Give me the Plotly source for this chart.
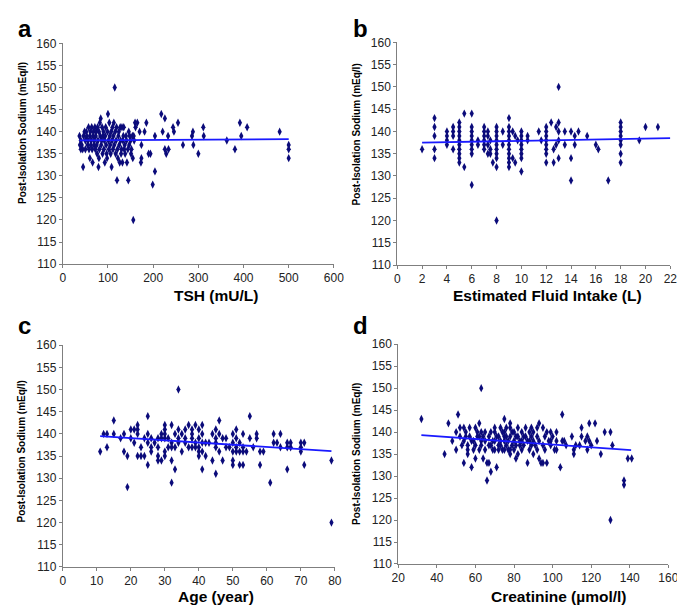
import plotly.graph_objects as go

# ---------------- data ----------------
y_ticks = [110, 115, 120, 125, 130, 135, 140, 145, 150, 155, 160]

panel_a_points = [
    (37,139),(38,137),(40,136),(40,138),(42,137),(44,136),(45,132),(46,139),(48,140),(50,138),(50,136),
    (52,140),(53,139),(55,137),(56,138),(57,141),(58,136),(60,134),(60,139),(61,140),(62,137),(63,138),
    (64,141),(65,136),(66,133),(67,139),(68,140),(69,137),(70,138),
    (71,141),(72,136),(73,139),(74,140),(75,137),(76,135),(77,141),(78,138),(79,132),(80,134),(80,140),
    (81,136),(82,142),(83,139),(84,143),(85,137),(86,138),(87,141),(88,135),(89,139),(90,140),
    (91,136),(92,138),(93,133),(94,139),(95,141),(96,137),(97,135),(98,134),(99,140),(100,144),(101,138),
    (102,136),(103,142),(104,139),(105,137),(106,135),(107,140),(108,132),(109,138),(110,141),
    (111,136),(112,139),(113,142),(114,137),(115,150),(116,140),(117,135),(118,138),(119,141),(120,129),
    (121,136),(122,134),(123,139),(124,140),(125,137),(126,133),(127,141),(128,138),(129,135),(130,136),
    (131,141),(132,133),(133,138),(134,139),(135,141),(136,136),(137,137),(138,135),(140,139),(141,138),
    (142,133),(144,136),(145,129),(146,140),(147,137),(148,139),(150,138),(151,135),(152,136),(154,139),
    (155,134),(156,120),(157,139),(158,138),(160,142),
    (161,141),(165,142),(170,140),(173,133),(174,134),(174,137),(181,140),(185,142),(190,135),(194,135),
    (199,128),(204,131),(204,139),(218,144),(221,140),(226,136),(226,143),(229,135),(233,139),(234,136),
    (244,141),(246,140),(255,142),(266,137),(286,139),(288,140),(289,137),(300,135),(311,141),(312,139),
    (363,138),(381,136),(392,142),(395,139),(408,141),(480,140),(500,137),(500,136),(500,134),
]

panel_b_points = [
    (2,136),
    (3,143),(3,141),(3,139),(3,136),(3,134),
    (4,140),(4,139),(4,138),(4,137),
    (4.5,141),(4.5,140),(4.5,139),(4.5,136),
    (5,142),(5,141),(5,140),(5,139),(5,138),(5,137),(5,136),(5,135),(5,134),(5,133),
    (5.4,144),(5.4,132),
    (6,144),(6,141),(6,140),(6,139),(6,138),(6,137),(6,136),(6,135),(6,128),
    (6.5,138),(6.5,137),
    (7,141),(7,140),(7,139),(7,138),(7,137),(7,136),
    (7.3,140),(7.3,139),(7.3,137),(7.3,135),(7.5,138),(7.5,136),(7.5,135),
    (7.7,133),
    (8,141),(8,140),(8,139),(8,138),(8,137),(8,136),(8,135),(8,134),(8,132),(8,120),
    (8.5,140),(8.5,137),
    (9,143),(9,141),(9,140),(9,139),(9,138),(9,137),(9,136),(9,135),(9,134),(9,133),(9,132),
    (9.3,140),(9.3,134),(9.5,139),(9.5,133),(9.7,138),
    (10,140),(10,139),(10,138),(10,137),(10,136),(10,135),(10,134),(10,131),
    (10.5,139),(10.5,138),
    (11.4,140),(11.6,138),
    (12,141),(12,140),(12,139),(12,138),(12,137),(12,136),(12,135),(12,133),
    (12.4,142),(12.6,136),(12.6,133),(12.8,141),(12.8,137),
    (13,150),(13,142),(13,140),(13,138),(13,134),
    (13.5,140),(13.5,137),
    (14,140),(14,134),(14,129),
    (14.3,139),(14.3,137),(14.6,140),
    (15.3,139),(16,137),(16.2,136),(17,129),
    (18,142),(18,141),(18,140),(18,139),(18,138),(18,137),(18,135),(18,133),
    (19.5,138),(20,141),(21,141),
]

panel_c_points = [
    (11,136),(12,140),(13,140),(13,137),(15,143),(15,140),(17,139),(18,140),(18,136),(19,135),(19,128),
    (20,141),(20,139),(21,141),(21,138),(22,142),(22,141),(22,140),(22,135),(23,137),(23,135),(24,135),
    (24,139),(25,138),(25,144),(25,140),(25,133),(26,139),(26,137),(26,136),(27,138),
    (28,139),(28,137),(28,135),(28,134),(29,140),(29,139),(29,134),
    (30,142),(30,141),(30,140),(30,139),(30,136),(30,135),(31,139),(31,137),
    (32,142),(32,138),(32,137),(32,134),(32,129),(33,140),(33,137),(33,132),
    (34,150),(34,141),(34,139),(34,138),(35,140),(35,136),(36,141),(36,139),(36,138),
    (37,142),(37,137),(38,141),(38,140),(38,139),(38,137),(39,142),(39,138),(39,137),
    (40,141),(40,139),(40,137),(40,136),(40,135),(41,142),(41,140),(41,138),(41,136),(41,132),
    (42,138),(42,135),(43,138),(44,140),(44,134),(45,141),(45,139),(45,138),(45,137),(45,131),
    (46,143),(46,140),(46,136),(47,139),(47,134),(48,139),(48,137),(49,137),
    (50,140),(50,138),(50,136),(50,134),(50,133),(51,141),(51,139),(51,137),(51,136),
    (52,138),(52,136),(52,133),(53,140),(53,137),(53,136),(53,133),(54,136),(55,144),(55,139),
    (56,137),(57,139),(57,140),(58,133),(58,136),(59,136),(61,129),(62,140),(62,138),(63,138),
    (64,140),(64,137),(66,132),(66,138),(66,137),(67,138),(67,137),(70,138),(70,137),(70,136),
    (71,138),(71,133),(79,134),(79,120),
]

panel_d_points = [
    (32,143),(44,135),(46,142),(48,138),(50,136),(50,140),(51,144),(52,139),(52,141),(53,137),(54,141),
    (54,138),(54,133),(55,140),(55,139),(56,136),(56,135),(56,137),(57,141),(57,139),(58,132),(58,138),
    (59,138),(59,136),(60,141),(60,137),(60,134),(61,139),(61,140),(62,142),(62,139),(62,136),(63,150),
    (63,140),(63,138),(63,137),(64,134),(64,139),(65,140),(65,136),(65,138),(66,129),(66,133),(67,133),
    (67,139),(67,137),(68,131),(68,137),(68,140),(69,138),(69,136),(70,140),(70,138),(70,136),(70,141),
    (71,132),(71,139),(72,139),(72,137),(72,136),(73,141),(73,137),(73,138),(74,140),(74,136),(75,143),
    (75,140),(75,139),(75,138),(75,136),(76,137),(76,141),(76,139),(77,138),(77,136),(78,141),(78,139),
    (78,142),(78,136),(78,135),(79,140),(79,137),(80,140),(80,138),(80,136),(81,137),(81,134),(81,139),
    (82,139),(82,135),(82,141),(83,138),(83,137),(84,140),(84,138),(84,136),(85,139),(85,137),(86,139),
    (86,141),(87,133),(87,138),(88,140),(88,138),(88,136),(89,141),(89,137),(89,139),(90,138),(90,135),
    (90,140),(91,137),(92,141),(92,139),(92,136),(93,142),(93,134),(93,138),(94,133),(95,141),(95,137),
    (95,133),(96,139),(96,136),(97,133),(97,140),(98,138),(99,140),(99,138),(99,137),(100,139),(101,136),
    (102,136),(102,140),(102,138),(104,132),(105,144),(105,138),(106,138),(107,137),(110,139),(111,136),
    (111,135),(112,137),(114,137),(115,141),(115,139),(117,138),(118,139),(118,136),(119,142),(119,138),
    (120,137),(122,142),(123,138),(125,135),(127,140),(130,140),(130,120),(131,137),(137,129),(137,128),
    (139,134),(141,134),
]

# Excel-style linear trend lines (end points)
trend_a_x, trend_a_y = [37, 500], [138.0, 138.3]
trend_b_x, trend_b_y = [2, 22], [137.5, 138.5]
trend_c_x, trend_c_y = [11, 79], [139.5, 136.1]
trend_d_x, trend_d_y = [32, 140.7], [139.3, 135.9]

panel_letters = ["a", "b", "c", "d"]
x_titles = ["TSH (mU/L)", "Estimated Fluid Intake (L)", "Age (year)", "Creatinine (µmol/l)"]
y_title = "Post-Isolation Sodium (mEq/l)"
x_ranges = [[0, 600], [0, 22], [0, 80], [20, 160]]
x_dticks = [100, 2, 10, 20]

# ---------------- figure ----------------
W, H = 685, 605
FONT = "Arial, Liberation Sans, Helvetica, sans-serif"
MARKER = "#0b0b7a"
LINE = "#1a1aff"

# plot-area boxes in pixels: (left, right, top, bottom)
boxes = [(49, 327, 29, 255), (392, 672, 28, 256), (49, 328, 338, 565), (393, 670, 337, 562)]

fig = go.Figure()
points = [panel_a_points, panel_b_points, panel_c_points, panel_d_points]
trends = [(trend_a_x, trend_a_y), (trend_b_x, trend_b_y), (trend_c_x, trend_c_y), (trend_d_x, trend_d_y)]

for i in range(4):
    sfx = "" if i == 0 else str(i + 1)
    xs = [p[0] for p in points[i]]
    ys = [p[1] for p in points[i]]
    fig.add_trace(go.Scatter(x=xs, y=ys, mode="markers", xaxis="x" + sfx, yaxis="y" + sfx,
                             marker=dict(symbol="diamond-tall", size=6, color=MARKER,
                                         line=dict(width=0)),
                             showlegend=False, hoverinfo="x+y"))
    fig.add_trace(go.Scatter(x=trends[i][0], y=trends[i][1], mode="lines", xaxis="x" + sfx,
                             yaxis="y" + sfx, line=dict(color=LINE, width=1.8),
                             showlegend=False, hoverinfo="skip"))
    l, r, t, b = boxes[i]
    axis_common = dict(showgrid=False, zeroline=False, showline=True, linecolor="#7f7f7f",
                       linewidth=1, ticks="outside", ticklen=3, tickcolor="#7f7f7f",
                       tickfont=dict(family=FONT, size=12, color="#222"))
    fig.layout["xaxis" + sfx] = dict(axis_common, domain=[l / W, r / W], range=x_ranges[i],
                                     dtick=x_dticks[i], tick0=0, anchor="y" + sfx)
    fig.layout["yaxis" + sfx] = dict(axis_common, domain=[1 - b / H, 1 - t / H], range=[110, 160],
                                     tickvals=y_ticks, anchor="x" + sfx)

letter_pos = [(10, 14), (354, 14), (10, 318), (354, 318)]
# x-title positions: (centre x, y, vertical anchor)
xtitle_pos = [(206, 287, "middle"), (546, 287, "middle"), (206, 605, "bottom"), (558, 605, "bottom")]
ytitle_pos = [(7, 121), (350, 122), (7, 447), (350, 449)]
ann = []
for i in range(4):
    lx, ly = letter_pos[i]
    ann.append(dict(text="<b>%s</b>" % panel_letters[i], x=lx / W, y=1 - ly / H, xref="paper",
                    yref="paper", xanchor="center", yanchor="middle", showarrow=False,
                    font=dict(family=FONT, size=24, color="black")))
    tx, ty, anc = xtitle_pos[i]
    ann.append(dict(text="<b>%s</b>" % x_titles[i], x=tx / W, y=1 - ty / H, xref="paper",
                    yref="paper", xanchor="center", yanchor=anc, showarrow=False,
                    borderpad=0, font=dict(family=FONT, size=15.5, color="black")))
    yx, yy = ytitle_pos[i]
    ann.append(dict(text="<b>%s</b>" % y_title, x=yx / W, y=1 - yy / H, xref="paper",
                    yref="paper", xanchor="center", yanchor="middle", showarrow=False,
                    textangle=-90, font=dict(family=FONT, size=10, color="black")))

fig.update_layout(width=W, height=H, margin=dict(l=0, r=0, t=0, b=0),
                  paper_bgcolor="white", plot_bgcolor="white", annotations=ann,
                  font=dict(family=FONT))

fig.write_html("out.html")
